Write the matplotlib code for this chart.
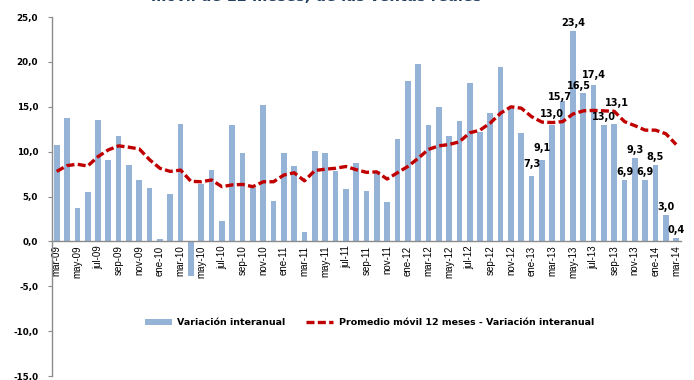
import matplotlib
matplotlib.use("Agg")
import matplotlib.pyplot as plt
import numpy as np

# meses mar-09 .. mar-14
years = ["09", "10", "11", "12", "13", "14"]
mes = ["ene", "feb", "mar", "abr", "may", "jun", "jul", "ago", "sep", "oct", "nov", "dic"]
months = [m + "-" + y for y in years for m in mes][2:63]

var_interanual = [
    10.8, 13.8, 3.7, 5.5, 13.5, 9.1, 11.8, 8.5, 6.9, 6.0,
    0.3, 5.3, 13.1, -3.9, 6.4, 8.0, 2.3, 13.0, 9.9, 6.0, 15.2, 4.5,
    9.9, 8.4, 1.1, 10.1, 9.9, 7.8, 5.8, 8.7, 5.6, 7.9, 4.4, 11.4,
    17.9, 19.8, 13.0, 15.0, 11.7, 13.4, 17.6, 12.2, 14.3, 19.4, 15.0, 12.1,
    7.3, 9.1, 13.0, 15.7, 23.4, 16.5, 17.4, 13.0, 13.1, 6.9, 9.3, 6.9,
    8.5, 3.0, 0.4,
]

prom_movil = [
    7.8, 8.45, 8.6, 8.4, 9.45, 10.2, 10.65, 10.5, 10.3, 9.1,
    8.15, 7.8, 7.95, 6.7, 6.65, 6.85, 6.1, 6.3, 6.35, 6.1, 6.65, 6.65,
    7.4, 7.65, 6.75, 7.9, 8.05, 8.15, 8.35, 8.0, 7.7, 7.75, 6.95, 7.65,
    8.35, 9.25, 10.25, 10.65, 10.8, 11.1, 12.1, 12.4, 13.2, 14.3, 15.0, 14.85,
    13.9, 13.3, 13.25, 13.35, 14.2, 14.55, 14.6, 14.55, 14.5, 13.35, 12.9, 12.4,
    12.4, 12.0, 10.8,
]

# etiquetas de valor desde ene-13
first_label = months.index("ene-13")

tick_labels = months[::2]

def fmt(v):
    return ("%.1f" % v).replace(".", ",")

x = np.arange(len(months))

fig = plt.figure(figsize=(6.94, 3.80), dpi=100)
ax = fig.add_axes([0.075, 0.0105, 0.906, 0.9445])

# eje x sobre el cero (antes de fijar los ticks: set_position los reinicia)
ax.spines["bottom"].set_position(("data", 0))

bars = ax.bar(x, var_interanual, width=0.55, color="#95B3D7", label="Variación interanual", zorder=2)
line, = ax.plot(x, prom_movil, color="#C00000", lw=2.4, dashes=(2.4, 1.0),
                label="Promedio móvil 12 meses - Variación interanual", zorder=3)

# ajustes de posición (pixeles) para algunas etiquetas
nudge = {"ene-13": (0, 12), "feb-13": (0, 12), "mar-13": (0, 11), "abr-13": (-3, 4),
         "may-13": (0, 8), "jun-13": (-4, 7), "jul-13": (0, 10), "sep-13": (3, 21)}
for i in range(first_label, len(months)):
    dx, dy = nudge.get(months[i], (0, 8))
    ax.annotate(fmt(var_interanual[i]), (x[i], var_interanual[i]),
                xytext=(dx, dy), textcoords="offset pixels",
                ha="center", va="center", fontsize=7, fontweight="bold", zorder=4)

ax.set_xlim(-0.45, len(months) - 0.55)
ax.set_ylim(-15, 25)
ax.set_yticks(np.arange(-15, 26, 5))
ax.set_yticklabels([fmt(v) for v in np.arange(-15, 26, 5)], fontsize=6.3, fontweight="bold")

ax.set_xticks(x[::2])
ax.set_xticklabels(tick_labels, rotation=90, fontsize=7, family="Liberation Sans", va="top")
ax.spines["top"].set_visible(False)
ax.spines["right"].set_visible(False)
for s in ("bottom", "left"):
    ax.spines[s].set_color("#8C8C8C")
    ax.spines[s].set_linewidth(1.0)
ax.tick_params(axis="x", length=0, pad=3)
ax.tick_params(axis="y", length=3, color="#8C8C8C", pad=7)

ax.legend([bars, line], [bars.get_label(), line.get_label()],
          loc="center", bbox_to_anchor=(0.505, 0.148), ncol=2, frameon=False,
          prop={"size": 6.8, "weight": "bold"}, handlelength=2.8, columnspacing=2.2,
          handleheight=0.5, handletextpad=0.6)

fig.text(0.456, 0.998, "móvil de 12 meses, de las ventas reales", ha="center", va="baseline",
         fontsize=10.5, fontweight="bold", color="#243F60")

fig.savefig("out.png", dpi=100)
